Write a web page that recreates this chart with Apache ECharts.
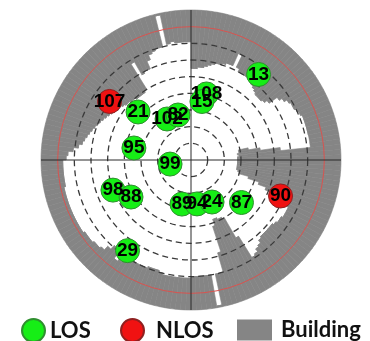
<!DOCTYPE html>
<html>
<head>
<meta charset="utf-8">
<script src="https://cdn.jsdelivr.net/npm/echarts@6/dist/echarts.min.js"></script>
<style>
  html, body { margin: 0; padding: 0; background: #ffffff; }
  #chart { width: 370px; height: 341px; }
</style>
</head>
<body>
<div id="chart"></div>
<script>
// Roofline elevation (deg) of the surrounding buildings, in 2-degree azimuth bins;
// bin i covers azimuth [2i, 2i + 2), measured clockwise from north.
const binWidth = 2;
const buildingElevation = [
  35, 35, 34, 34, 33, 32, 31, 30, 30, 29,   //   0 -  18
  28, 28, 20, 28, 30, 30, 30, 30, 31, 32,   //  20 -  38
  33, 34, 35, 35, 35, 34, 32, 26, 24, 22,   //  40 -  58
  21, 21, 20, 19, 18, 18, 18, 18, 18, 18,   //  60 -  78
  18, 18, 61, 62, 62, 62, 62, 62, 62, 62,   //  80 -  98
  62, 61, 60, 54, 47, 42, 36, 28, 25, 25,   // 100 - 118
  25, 26, 26, 27, 28, 28, 28, 28, 28, 27,   // 120 - 138
  25, 24, 22, 21, 36, 50, 51, 51, 52, 52,   // 140 - 158
  48, 32, 20, 20,  1, 20, 20, 20, 20, 20,   // 160 - 178
  19, 19, 19, 19, 19, 19, 19, 20, 21, 21,   // 180 - 198
  21, 20, 20, 20, 20, 19, 18, 16, 15, 20,   // 200 - 218
  21, 18, 15, 14, 14, 13, 13, 13, 12, 12,   // 220 - 238
  12, 12, 12, 12, 12, 12, 12, 12, 12, 13,   // 240 - 258
  13, 13, 13, 13, 13, 15, 16, 19, 22, 24,   // 260 - 278
  25, 26, 27, 28, 29, 30, 31, 32, 33, 34,   // 280 - 298
  35, 36, 37, 37, 38, 39, 39, 40, 40, 41,   // 300 - 318
  41, 41, 41, 40, 22, 31, 30, 30, 25, 22,   // 320 - 338
  21, 20, 20,  1, 19, 18, 19, 19, 19, 19    // 340 - 358
];

// Free-standing part of the eastern building: azimuth bin start, inner and outer edge elevation
const blockAzimuth   = [78, 80, 82];
const blockInnerElev = [61, 61, 62];
const blockOuterElev = [55, 48, 36];

// Satellites in view (azimuth, elevation in degrees)
const losPrn       = ['13', '108', '15', '21', '102', '82', '95', '99', '98', '88', '29', '89', '94', '24', '87'];
const losAzimuth   = [38.3, 13.2, 10.6, 312.2, 329.7, 343.9, 281.9, 259.0, 248.9, 238.3, 215.0, 191.6, 172.2, 153.4, 130.1];
const losElevation = [24.6, 49.3, 54.3, 47.1, 61.5, 61.9, 55.0, 77.2, 39.8, 47.7, 23.6, 63.0, 63.4, 61.8, 50.4];

const nlosPrn       = ['107', '90'];
const nlosAzimuth   = [305.7, 111.9];
const nlosElevation = [29.8, 32.1];

// Elevation rings (deg) and the elevation mask
const elevationRings = [80, 70, 60, 50, 40, 30, 20];
const maskElevation = 10;

// ---- derived tables for the stacked polar bars (radius = zenith angle) ----
const azimuthBins = buildingElevation.map((_, i) => String(i * binWidth));
const skyPart = [], blockPart = [], gapPart = [], roofPart = [];
buildingElevation.forEach((el, i) => {
  const k = blockAzimuth.indexOf(i * binWidth);
  if (k >= 0) {
    skyPart.push(90 - blockInnerElev[k]);
    blockPart.push(blockInnerElev[k] - blockOuterElev[k]);
    gapPart.push(blockOuterElev[k] - el);
  } else {
    skyPart.push(90 - el);
    blockPart.push(0);
    gapPart.push(0);
  }
  roofPart.push(el);
});

const zenithTicks = [];
for (let z = 0; z <= 90; z += 10) zenithTicks.push(z);
const clear = 'rgba(0,0,0,0)';
const dashColors = zenithTicks.map(z => elevationRings.includes(90 - z) ? '#3a3a3a' : clear);
const maskColors = zenithTicks.map(z => (90 - z) === maskElevation ? '#d9534f' : clear);

const toPolar = (az, el) => az.map((a, i) => [90 - el[i], a]);

const CENTER = [191, 160];
const RADIUS = 150;
const GRAY = '#858585';

const hiddenAxis = {
  axisLine: { show: false }, axisTick: { show: false },
  axisLabel: { show: false }, splitLine: { show: false }
};

const satLabel = {
  show: true, position: 'inside', formatter: '{b}',
  color: '#000', fontSize: 19, fontWeight: 'bold',
  fontFamily: '"Liberation Sans", Arial, sans-serif'
};

const legendText = {
  color: '#111', fontSize: 22, fontWeight: 'bold',
  fontFamily: 'Lato, "Open Sans", sans-serif'
};

const roofStyle = { color: GRAY, borderColor: GRAY, borderWidth: 0.6 };

const chart = echarts.init(document.getElementById('chart'), null, { renderer: 'canvas' });

chart.setOption({
  animation: false,
  backgroundColor: '#ffffff',
  polar: [
    { center: CENTER, radius: RADIUS },
    { center: CENTER, radius: RADIUS },
    { center: CENTER, radius: RADIUS }
  ],
  angleAxis: [
    Object.assign({ polarIndex: 0, type: 'category', data: azimuthBins,
      startAngle: 90, clockwise: true, boundaryGap: true }, hiddenAxis),
    { polarIndex: 1, type: 'value', min: 0, max: 360, interval: 90,
      startAngle: 90, clockwise: true, z: 3,
      axisLine: { show: false }, axisTick: { show: false }, axisLabel: { show: false },
      splitLine: { show: true, lineStyle: { color: '#2b2b2b', width: 1 } } },
    Object.assign({ polarIndex: 2, type: 'value', min: 0, max: 360,
      startAngle: 90, clockwise: true, z: 3 }, hiddenAxis)
  ],
  radiusAxis: [
    Object.assign({ polarIndex: 0, type: 'value', min: 0, max: 90 }, hiddenAxis),
    { polarIndex: 1, type: 'value', min: 0, max: 90, interval: 10, z: 3,
      axisLine: { show: false }, axisTick: { show: false }, axisLabel: { show: false },
      splitLine: { show: true, lineStyle: { color: dashColors, type: [6, 4], width: 1.3 } } },
    { polarIndex: 2, type: 'value', min: 0, max: 90, interval: 10, z: 3,
      axisLine: { show: false }, axisTick: { show: false }, axisLabel: { show: false },
      splitLine: { show: true, lineStyle: { color: maskColors, width: 1 } } }
  ],
  legend: [
    { left: 16, top: 313, itemWidth: 23, itemHeight: 23, textStyle: legendText,
      selectedMode: false, data: [{ name: 'LOS', icon: 'circle' }] },
    { left: 115, top: 313, itemWidth: 23, itemHeight: 23,
      textStyle: Object.assign({ padding: [0, 0, 0, 7] }, legendText),
      selectedMode: false, data: [{ name: 'NLOS', icon: 'circle' }] },
    { left: 232, top: 314, itemWidth: 35, itemHeight: 21,
      itemStyle: { borderWidth: 0 },
      textStyle: Object.assign({ padding: [0, 0, 0, 4] }, legendText),
      selectedMode: false, data: [{ name: 'Building', icon: 'rect' }] }
  ],
  series: [
    { name: 'sky', type: 'bar', coordinateSystem: 'polar', polarIndex: 0,
      stack: 'mask', data: skyPart, barCategoryGap: '0%', silent: true,
      itemStyle: { color: clear } },
    { name: 'Building', type: 'bar', coordinateSystem: 'polar', polarIndex: 0,
      stack: 'mask', data: blockPart, barCategoryGap: '0%', silent: true,
      itemStyle: roofStyle },
    { name: 'gap', type: 'bar', coordinateSystem: 'polar', polarIndex: 0,
      stack: 'mask', data: gapPart, barCategoryGap: '0%', silent: true,
      itemStyle: { color: clear } },
    { name: 'Building', type: 'bar', coordinateSystem: 'polar', polarIndex: 0,
      stack: 'mask', data: roofPart, barCategoryGap: '0%', silent: true,
      itemStyle: roofStyle },
    { name: 'LOS', type: 'scatter', coordinateSystem: 'polar', polarIndex: 1,
      z: 6, symbol: 'circle', symbolSize: 24,
      itemStyle: { color: '#16ee16', borderColor: '#2f8f2f', borderWidth: 1, opacity: 1 },
      label: satLabel,
      data: toPolar(losAzimuth, losElevation).map((v, i) => ({ name: losPrn[i], value: v })) },
    { name: 'NLOS', type: 'scatter', coordinateSystem: 'polar', polarIndex: 1,
      z: 6, symbol: 'circle', symbolSize: 24,
      itemStyle: { color: '#f01212', borderColor: '#8f2020', borderWidth: 1, opacity: 1 },
      label: satLabel,
      data: toPolar(nlosAzimuth, nlosElevation).map((v, i) => ({ name: nlosPrn[i], value: v })) }
  ]
});
</script>
</body>
</html>
